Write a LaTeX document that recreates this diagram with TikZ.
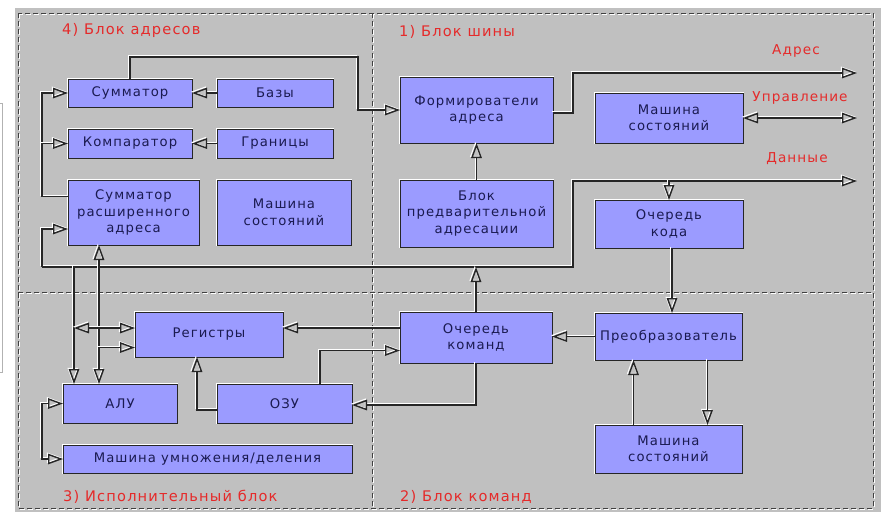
\documentclass[tikz,border=0pt]{standalone}
\usepackage{fontspec}
\setmainfont{DejaVu Sans}[LetterSpace=8]
\usetikzlibrary{arrows.meta,calc}
\definecolor{bg}{HTML}{C0C0C0}
\definecolor{boxfill}{HTML}{9B9BFF}
\definecolor{boxtext}{HTML}{1A1A50}
\definecolor{lab}{HTML}{E52A2A}
\tikzset{
  box/.style={rectangle, inner sep=0pt, outer sep=0pt, fill=boxfill, draw=black!85,
    line width=1pt, preaction={draw=white, line width=2.8pt}, text=boxtext,
    align=center, font=\fontsize{13.2}{16.5}\selectfont},
  wire/.style={draw=black!85, line width=1.4pt,
    preaction={draw=white, line width=1pt, transform canvas={shift={(-1.2pt,1.2pt)}}}},
  zone/.style={draw=black!75, line width=0.8pt, dash pattern=on 5pt off 3pt,
    preaction={draw=white, line width=0.8pt, dash pattern=on 5pt off 3pt,
      transform canvas={shift={(1pt,-1pt)}}}},
  lab/.style={text=lab, inner sep=0pt, font=\fontsize{13.6}{16}\selectfont},
  zlab/.style={text=lab, inner sep=0pt, font=\fontsize{14.6}{17}\selectfont},
  >={Triangle[open, length=15pt, width=10.5pt]}
}
\begin{document}
\begin{tikzpicture}[x=1pt,y=-1pt]
\useasboundingbox (0,0) rectangle (881,512);
\fill[white] (0,0) rectangle (881,512);
\fill[bg] (15,8) rectangle (881,512);
\draw[gray!60, line width=0.8pt] (0,103) -- (2.5,103) -- (2.5,372) -- (0,372);

% zones
\draw[zone] (18,13) rectangle (873,508);
\draw[zone] (372,13) -- (372,508);
\draw[zone] (18,292) -- (873,292);

% boxes
\node[box, minimum width=124pt, minimum height=28pt] (sum) at (130,93) {Сумматор};
\node[box, minimum width=116pt, minimum height=28pt] (baz) at (275,93) {Базы};
\node[box, minimum width=124pt, minimum height=29pt] (cmp) at (130,143.5) {Компаратор};
\node[box, minimum width=116pt, minimum height=29pt] (gr) at (275,143.5) {Границы};
\node[box, minimum width=131pt, minimum height=65pt] (sra) at (133.5,212.5) {Сумматор\\расширенного\\адреса};
\node[box, minimum width=134pt, minimum height=65pt] (msa) at (284,212.5) {Машина\\состояний};
\node[box, minimum width=153pt, minimum height=66pt] (form) at (476.5,110) {Формирователи\\адреса};
\node[box, minimum width=148pt, minimum height=50pt] (msb) at (669,118) {Машина\\состояний};
\node[box, minimum width=153pt, minimum height=67pt] (bpa) at (476.5,213.5) {Блок\\предварительной\\адресации};
\node[box, minimum width=148pt, minimum height=48pt] (ok) at (669,224) {Очередь\\кода};
\node[box, minimum width=148pt, minimum height=45pt] (reg) at (209,334.5) {Регистры};
\node[box, minimum width=114pt, minimum height=39pt] (alu) at (120,403.5) {АЛУ};
\node[box, minimum width=135pt, minimum height=39pt] (ozu) at (284.5,403.5) {ОЗУ};
\node[box, minimum width=289pt, minimum height=28pt] (mud) at (207.5,459) {Машина умножения/деления};
\node[box, minimum width=152pt, minimum height=51pt] (ock) at (476,337.5) {Очередь\\команд};
\node[box, minimum width=147pt, minimum height=47pt] (pre) at (668.5,336.5) {Преобразователь};
\node[box, minimum width=147pt, minimum height=48pt] (msc) at (668.5,449) {Машина\\состояний};

% labels
\node[zlab, anchor=west] (l4) at (62,30) {4) Блок адресов};
\node[zlab, anchor=west] (l1) at (399,32) {1) Блок шины};
\node[zlab, anchor=west] (l3) at (63,497) {3) Исполнительный блок};
\node[zlab, anchor=west] (l2) at (400,497) {2) Блок команд};
\node[lab] (ladr) at (796,51) {Адрес};
\node[lab] (lupr) at (800,98) {Управление};
\node[lab] (ldan) at (797,159) {Данные};

% free ends and bus points
\coordinate (adr) at (857,73);
\coordinate (upr) at (857,118);
\coordinate (dan) at (857,181);
\coordinate (busL) at (42,267);
\coordinate (busR) at (573,267);
\coordinate (xa) at (74,267);
\coordinate (xb) at (99,267);
\coordinate (r1) at ($(reg.west)+(0,-6.5)$);
\coordinate (r2) at ($(reg.west)+(0,13)$);

% address block
\draw[wire,->] (sum.north) -- ++(0,-22) -| (358,110) -- (form.west);
\draw[wire,->] (baz.west) -- (sum.east);
\draw[wire,->] (gr.west) -- (cmp.east);
\draw[wire,->] ($(sra.west)+(0,-16)$) -| (42,93) -- (sum.west);
\draw[wire,->] (42,143.5) -- (cmp.west);

% data bus
\draw[wire,->] (busL) -- (busR) -- (573,181) -- (dan);
\draw[wire,->] (busL) -- (42,229) -- (sra.west |- 0,229);
\draw[wire,->] ($(ok.north)+(0,-19)$) -- (ok.north);
\draw[wire,->] (xb) -- (xb |- sra.south);
\draw[wire,->] (xb) -- (xb |- alu.north);
\draw[wire,->] (xa) -- (xa |- alu.north);
\draw[wire,<->] (xa |- r1) -- (r1);
\draw[wire,->] (xb |- r2) -- (r2);
\draw[wire,->] (ock.north) -- (ock.north |- busR);

% bus block
\draw[wire,->] (bpa.north) -- (form.south);
\draw[wire,->] ($(form.east)+(0,3)$) -| (573,73) -- (adr);
\draw[wire,<->] (msb.east) -- (upr);

% execution / command blocks
\draw[wire,->] ($(ock.west)+(0,-9.5)$) -- (reg.east |- 0,328);
\draw[wire,->] ($(ozu.north)+(35.5,0)$) |- ($(ock.west)+(0,13)$);
\draw[wire,->] ($(ozu.west)+(0,6.5)$) -| ($(reg.south)+(-12,0)$);
\draw[wire,->] (ock.south) |- ($(ozu.east)+(0,1.5)$);
\draw[wire,<->] (alu.west) -- ++(-21,0) |- (mud.west);
\draw[wire,->] (pre.west) -- (pre.west -| ock.east);
\draw[wire,->] ($(ok.south)+(3,0)$) coordinate (k1) -- (k1 |- pre.north);
\draw[wire,->] ($(msc.north)+(-35,0)$) coordinate (m1) -- (m1 |- pre.south);
\draw[wire,->] ($(pre.south)+(39,0)$) coordinate (m2) -- (m2 |- msc.north);
\end{tikzpicture}
\end{document}
